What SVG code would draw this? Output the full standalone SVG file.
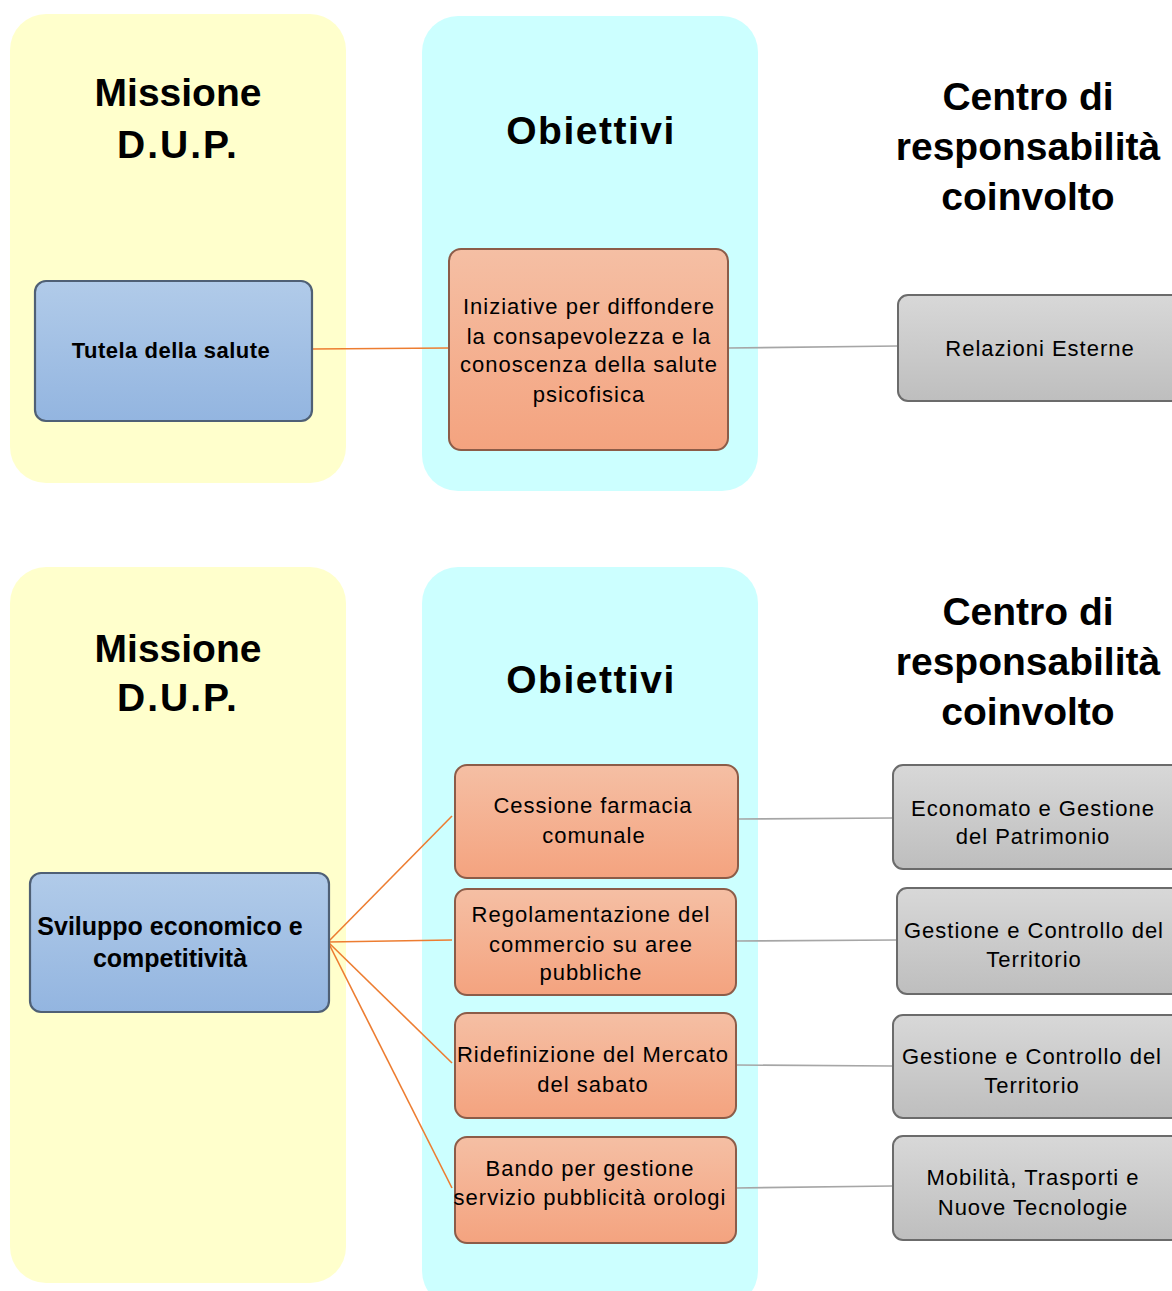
<svg xmlns="http://www.w3.org/2000/svg" width="1172" height="1291" viewBox="0 0 1172 1291">
<defs>
<linearGradient id="gBlue" x1="0" y1="0" x2="0" y2="1"><stop offset="0" stop-color="#B1CBE9"/><stop offset="1" stop-color="#93B5E0"/></linearGradient>
<linearGradient id="gOrange" x1="0" y1="0" x2="0" y2="1"><stop offset="0" stop-color="#F5BFA4"/><stop offset="1" stop-color="#F4A37F"/></linearGradient>
<linearGradient id="gGray" x1="0" y1="0" x2="0" y2="1"><stop offset="0" stop-color="#D8D8D8"/><stop offset="1" stop-color="#BEBEBE"/></linearGradient>
</defs>
<style>
.ypanel{fill:#FFFFCC}
.cpanel{fill:#CCFFFF}
.head{font-family:"Liberation Sans",Arial,sans-serif;font-weight:bold;font-size:39px;fill:#000;text-anchor:middle}
.blue{fill:url(#gBlue);stroke:#4F6075;stroke-width:2.2}
.orange{fill:url(#gOrange);stroke:#8C5C48;stroke-width:2}
.gray{fill:url(#gGray);stroke:#6B6B6B;stroke-width:2}
.bt{font-family:"Liberation Sans",Arial,sans-serif;font-weight:bold;fill:#000;text-anchor:middle}
.t{font-family:"Liberation Sans",Arial,sans-serif;font-size:22px;letter-spacing:1px;fill:#000;text-anchor:middle}
.co{stroke:#ED7D31;stroke-width:1.6;fill:none}
.cg{stroke:#A6A6A6;stroke-width:1.6;fill:none}
</style>

<g id="panels">
<rect class="ypanel" x="10" y="14" width="336" height="469" rx="36"/>
<rect class="cpanel" x="422" y="16" width="336" height="475" rx="36"/>
<rect class="ypanel" x="10" y="567" width="336" height="716" rx="36"/>
<rect class="cpanel" x="422" y="567" width="336" height="740" rx="36"/>
</g>

<g id="headers">
<text class="head" x="178" y="106">Missione</text>
<text class="head" x="178" y="158" letter-spacing="2">D.U.P.</text>
<text class="head" x="591" y="144" letter-spacing="1.5">Obiettivi</text>
<text class="head" x="1028" y="110">Centro di</text>
<text class="head" x="1028" y="160">responsabilità</text>
<text class="head" x="1028" y="210">coinvolto</text>
<text class="head" x="178" y="662">Missione</text>
<text class="head" x="178" y="711" letter-spacing="2">D.U.P.</text>
<text class="head" x="591" y="693" letter-spacing="1.5">Obiettivi</text>
<text class="head" x="1028" y="625">Centro di</text>
<text class="head" x="1028" y="675">responsabilità</text>
<text class="head" x="1028" y="725">coinvolto</text>
</g>

<g id="connectors">
<line class="co" x1="312" y1="349" x2="449" y2="348"/>
<line class="cg" x1="728" y1="348" x2="898" y2="346"/>
<line class="co" x1="328" y1="942" x2="452" y2="816"/>
<line class="co" x1="328" y1="942" x2="452" y2="940"/>
<line class="co" x1="328" y1="942" x2="452" y2="1063"/>
<line class="co" x1="328" y1="942" x2="452" y2="1188"/>
<line class="cg" x1="738" y1="819" x2="892" y2="818"/>
<line class="cg" x1="736" y1="941" x2="896" y2="940"/>
<line class="cg" x1="736" y1="1065" x2="892" y2="1066"/>
<line class="cg" x1="736" y1="1188" x2="892" y2="1186"/>
</g>

<g id="n-tutela">
<rect class="blue" x="35" y="281" width="277" height="140" rx="11"/>
<text class="bt" x="171" y="358" font-size="22" letter-spacing="0.5">Tutela della salute</text>
</g>

<g id="n-iniziative">
<rect class="orange" x="449" y="249" width="279" height="201" rx="12"/>
<text class="t" x="589" y="314">Iniziative per diffondere</text>
<text class="t" x="589" y="344">la consapevolezza e la</text>
<text class="t" x="589" y="372">conoscenza della salute</text>
<text class="t" x="589" y="402">psicofisica</text>
</g>

<g id="n-relazioni">
<rect class="gray" x="898" y="295" width="290" height="106" rx="10"/>
<text class="t" x="1040" y="356">Relazioni Esterne</text>
</g>

<g id="n-sviluppo">
<rect class="blue" x="30" y="873" width="299" height="139" rx="11"/>
<text class="bt" x="170" y="935" font-size="25">Sviluppo economico e</text>
<text class="bt" x="170" y="967" font-size="25">competitività</text>
</g>

<g id="n-cessione">
<rect class="orange" x="455" y="765" width="283" height="113" rx="12"/>
<text class="t" x="593" y="813">Cessione farmacia</text>
<text class="t" x="594" y="843">comunale</text>
</g>

<g id="n-regolamentazione">
<rect class="orange" x="455" y="889" width="281" height="106" rx="12"/>
<text class="t" x="591" y="922">Regolamentazione del</text>
<text class="t" x="591" y="952">commercio su aree</text>
<text class="t" x="591" y="980">pubbliche</text>
</g>

<g id="n-ridefinizione">
<rect class="orange" x="455" y="1013" width="281" height="105" rx="12"/>
<text class="t" x="593" y="1062">Ridefinizione del Mercato</text>
<text class="t" x="593" y="1092">del sabato</text>
</g>

<g id="n-bando">
<rect class="orange" x="455" y="1137" width="281" height="106" rx="12"/>
<text class="t" x="590" y="1176">Bando per gestione</text>
<text class="t" x="590" y="1205">servizio pubblicità orologi</text>
</g>

<g id="n-economato">
<rect class="gray" x="893" y="765" width="295" height="104" rx="10"/>
<text class="t" x="1033" y="816">Economato e Gestione</text>
<text class="t" x="1033" y="844">del Patrimonio</text>
</g>

<g id="n-gestione1">
<rect class="gray" x="897" y="888" width="291" height="106" rx="10"/>
<text class="t" x="1034" y="938">Gestione e Controllo del</text>
<text class="t" x="1034" y="967">Territorio</text>
</g>

<g id="n-gestione2">
<rect class="gray" x="893" y="1015" width="295" height="103" rx="10"/>
<text class="t" x="1032" y="1064">Gestione e Controllo del</text>
<text class="t" x="1032" y="1093">Territorio</text>
</g>

<g id="n-mobilita">
<rect class="gray" x="893" y="1136" width="295" height="104" rx="10"/>
<text class="t" x="1033" y="1185">Mobilità, Trasporti e</text>
<text class="t" x="1033" y="1215">Nuove Tecnologie</text>
</g>
</svg>
